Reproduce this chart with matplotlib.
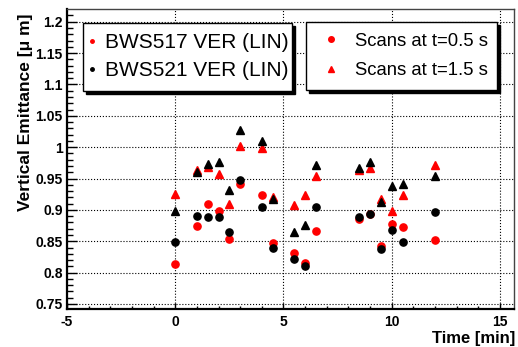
import matplotlib
matplotlib.use("Agg")
import matplotlib.pyplot as plt
from matplotlib.lines import Line2D
from matplotlib.patches import Rectangle
from matplotlib.ticker import MultipleLocator, FormatStrFormatter

plt.rcParams['font.family'] = ['Liberation Sans', 'DejaVu Sans']

# time of each scan [min]
time = [0, 1, 1.5, 2, 2.5, 3, 4, 4.5, 5.5, 6, 6.5, 8.5, 9, 9.5, 10, 10.5, 12]
# BWS517 vertical emittance (red)
bws517_t05 = [0.813, 0.874, 0.909, 0.898, 0.853, 0.941, 0.923, 0.847, 0.832, 0.815,
              0.867, 0.886, 0.894, 0.843, 0.878, 0.872, 0.852]
bws517_t15 = [0.926, 0.964, 0.969, 0.957, 0.910, 1.002, 0.999, 0.920, 0.907, 0.923,
              0.954, 0.963, 0.966, 0.918, 0.898, 0.924, 0.971]
# BWS521 vertical emittance (black)
bws521_t05 = [0.849, 0.891, 0.888, 0.888, 0.864, 0.948, 0.905, 0.840, 0.821, 0.810,
              0.904, 0.888, 0.893, 0.838, 0.868, 0.849, 0.897]
bws521_t15 = [0.898, 0.960, 0.973, 0.977, 0.932, 1.028, 1.010, 0.917, 0.864, 0.876,
              0.971, 0.967, 0.976, 0.912, 0.938, 0.941, 0.954]

W, H = 518, 347
fig = plt.figure(figsize=(W / 100, H / 100), dpi=100)
ax = fig.add_axes([67 / W, 1 - 309.3 / H, 447 / W, 300 / H])

ax.plot(time, bws517_t05, 'o', color='red', markersize=5.2, zorder=3)
ax.plot(time, bws517_t15, '^', color='red', markersize=5.6, zorder=3)
ax.plot(time, bws521_t05, 'o', color='black', markersize=5.2, zorder=4)
ax.plot(time, bws521_t15, '^', color='black', markersize=5.6, zorder=4)

ax.set_xlim(-5, 15.65)
ax.set_ylim(0.7415, 1.2198)
ax.xaxis.set_major_locator(MultipleLocator(5))
ax.xaxis.set_minor_locator(MultipleLocator(1))
ax.yaxis.set_major_locator(MultipleLocator(0.05))
ax.yaxis.set_minor_locator(MultipleLocator(0.01))
ax.yaxis.set_major_formatter(FormatStrFormatter('%g'))
ax.xaxis.set_major_formatter(FormatStrFormatter('%g'))

ax.grid(True, which='major', linestyle=':', color='black', linewidth=0.8, zorder=1)
ax.tick_params(which='both', direction='in', top=False, right=False, labelsize=10, width=1)
ax.tick_params(axis='y', which='major', length=7.2, pad=3)
ax.tick_params(axis='y', which='minor', length=4.3)
ax.tick_params(axis='x', which='major', length=4.3, pad=4)
ax.tick_params(axis='x', which='minor', length=2.2)
for lab in ax.get_xticklabels() + ax.get_yticklabels():
    lab.set_fontweight('bold')

for s in ['left', 'bottom']:
    ax.spines[s].set_linewidth(1.6)
    ax.spines[s].set_color('black')
for s in ['top', 'right']:
    ax.spines[s].set_linewidth(1.0)
    ax.spines[s].set_color('#444444')

ax.set_xlabel('Time [min]', fontsize=12, fontweight='bold', loc='right')
ax.xaxis.set_label_coords(1.002, -0.072)
ax.set_ylabel('Vertical Emittance [\u03bc m]', fontsize=12.5, fontweight='bold', loc='top')
ax.yaxis.set_label_coords(-0.076, 0.985)

# legend boxes with black drop shadow
for (x0, y0, x1, y1) in [(83, 23, 292, 91), (306, 22, 497, 90)]:
    fig.add_artist(Rectangle(((x0 + 3) / W, 1 - (y1 + 3) / H), (x1 - x0) / W, (y1 - y0) / H,
                             transform=fig.transFigure, facecolor='black', edgecolor='black', zorder=5))
    fig.add_artist(Rectangle((x0 / W, 1 - y1 / H), (x1 - x0) / W, (y1 - y0) / H,
                             transform=fig.transFigure, facecolor='white', edgecolor='black',
                             linewidth=1, zorder=6))

h1 = [Line2D([], [], marker='o', color='red', linestyle='None', markersize=2.5),
      Line2D([], [], marker='o', color='black', linestyle='None', markersize=2.5)]
leg1 = fig.legend(h1, ['BWS517 VER (LIN)', 'BWS521 VER (LIN)'], loc='center left',
                  bbox_to_anchor=(86 / W, 1 - 56.5 / H), frameon=False, fontsize=15,
                  borderpad=0, borderaxespad=0, handlelength=0.6, handletextpad=0.3,
                  labelspacing=0.43)
leg1.set_zorder(7)

h2 = [Line2D([], [], marker='o', color='red', linestyle='None', markersize=4),
      Line2D([], [], marker='^', color='red', linestyle='None', markersize=4)]
leg2 = fig.legend(h2, ['Scans at t=0.5 s', 'Scans at t=1.5 s'], loc='center left',
                  bbox_to_anchor=(322 / W, 1 - 56 / H), frameon=False, fontsize=13.3,
                  borderpad=0, borderaxespad=0, handlelength=1.0, handletextpad=0.78,
                  labelspacing=0.7)
leg2.set_zorder(7)

fig.savefig('out.png', dpi=100)
